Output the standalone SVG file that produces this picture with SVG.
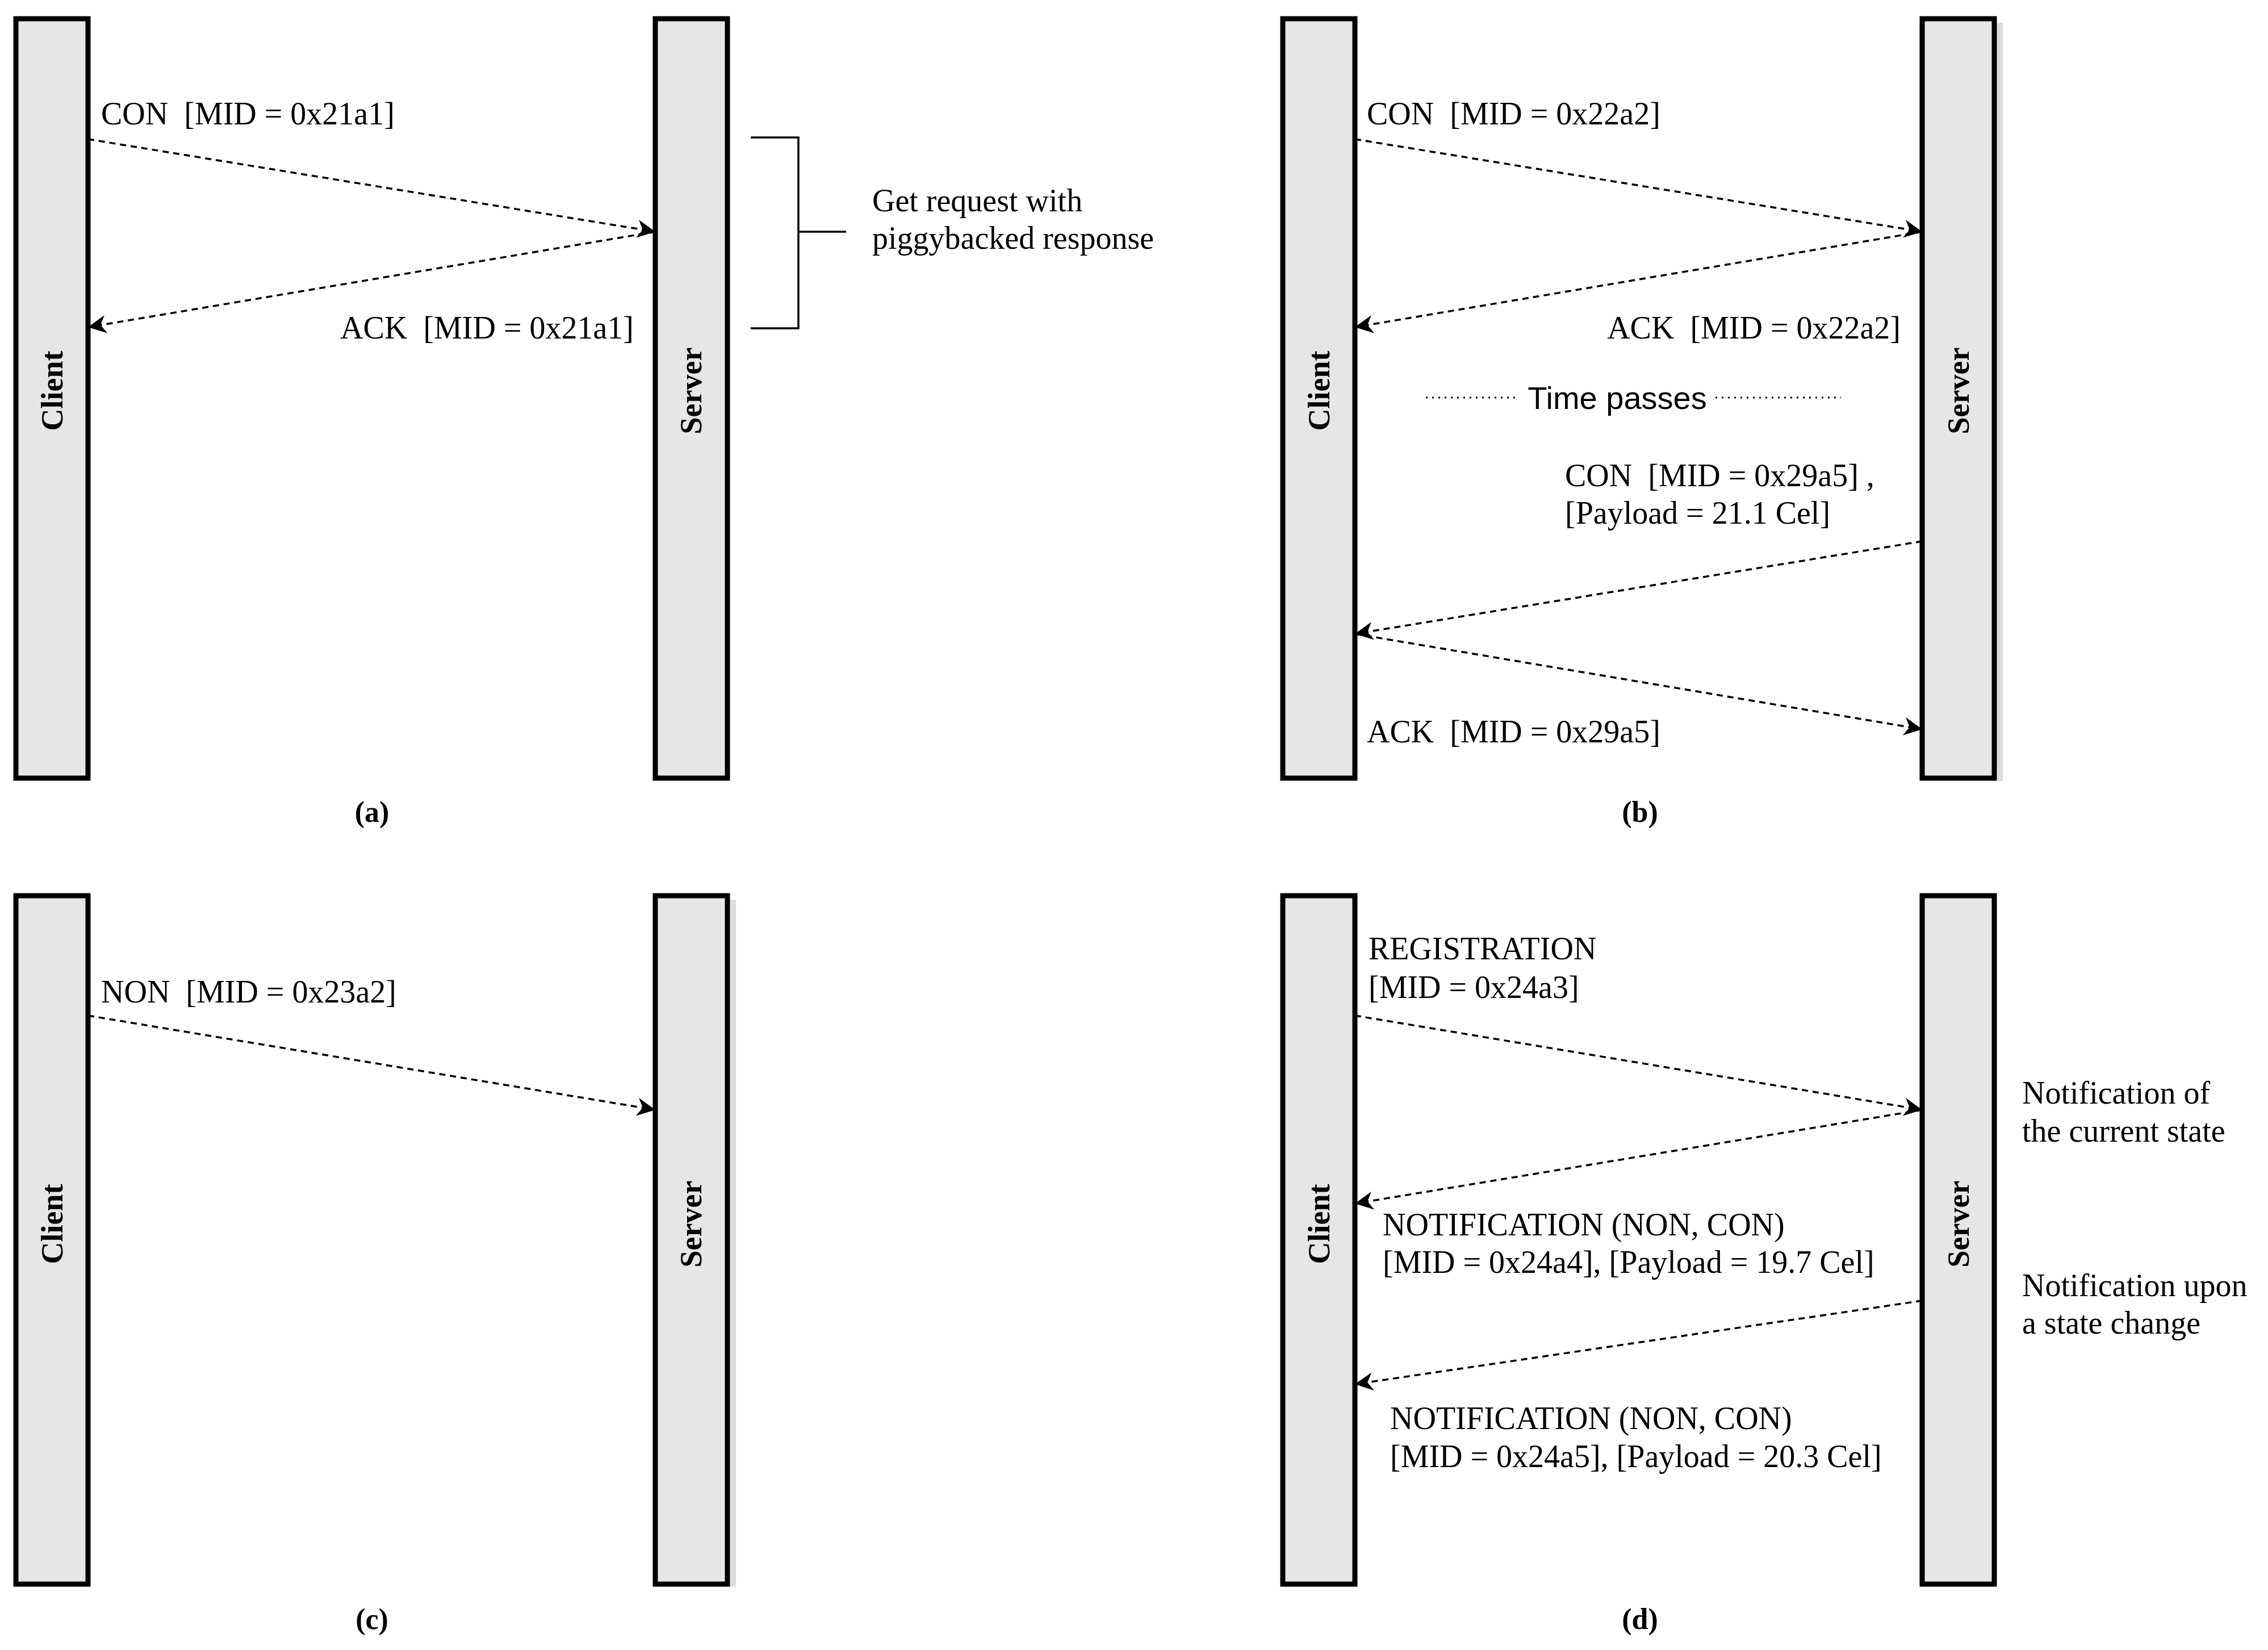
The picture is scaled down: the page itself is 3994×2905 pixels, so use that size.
<svg xmlns="http://www.w3.org/2000/svg" width="3994" height="2905" viewBox="0 0 3994 2905">
<style>
.life{fill:#e6e6e6;stroke:#000;stroke-width:9}
.shadow{fill:#dddddd}
.lbl{font-family:"Liberation Serif",serif;font-weight:bold;font-size:54px;text-anchor:middle;dominant-baseline:central}
.t{font-family:"Liberation Serif",serif;font-size:56px;fill:#000}
.cap{font-family:"Liberation Serif",serif;font-weight:bold;font-size:52px;text-anchor:middle}
.sans{font-family:"Liberation Sans",sans-serif;font-size:56px;text-anchor:middle}
.msg{fill:none;stroke:#000;stroke-width:3.5;stroke-dasharray:11 8;marker-end:url(#ah)}
.br{fill:none;stroke:#000;stroke-width:3.5}
.dot{stroke:#000;stroke-width:3;stroke-dasharray:3 8}
</style>
<defs>
<marker id="ah" markerUnits="userSpaceOnUse" markerWidth="32" markerHeight="32" viewBox="0 0 10 10" refX="10" refY="5" orient="auto">
<path d="M0,0 L10,5 L0,10 L3,5 z" fill="#000"/>
</marker>
</defs>
<rect width="3994" height="2905" fill="#fff"/>
<!-- shadows -->
<rect class="shadow" x="3517" y="40" width="10" height="1335"/>
<rect class="shadow" x="1286" y="1584" width="10" height="1210"/>

<g id="a-client"><rect class="life" x="28" y="33" width="127" height="1337"/><text class="lbl" transform="translate(92,688) rotate(-90)">Client</text></g>
<g id="a-server"><rect class="life" x="1154" y="33" width="127" height="1337"/><text class="lbl" transform="translate(1217,688) rotate(-90)">Server</text></g>
<g id="b-client"><rect class="life" x="2259" y="33" width="127" height="1337"/><text class="lbl" transform="translate(2323,688) rotate(-90)">Client</text></g>
<g id="b-server"><rect class="life" x="3385" y="33" width="127" height="1337"/><text class="lbl" transform="translate(3449,688) rotate(-90)">Server</text></g>
<g id="c-client"><rect class="life" x="28" y="1577" width="127" height="1212"/><text class="lbl" transform="translate(92,2155) rotate(-90)">Client</text></g>
<g id="c-server"><rect class="life" x="1154" y="1577" width="127" height="1212"/><text class="lbl" transform="translate(1217,2155) rotate(-90)">Server</text></g>
<g id="d-client"><rect class="life" x="2259" y="1577" width="127" height="1212"/><text class="lbl" transform="translate(2323,2155) rotate(-90)">Client</text></g>
<g id="d-server"><rect class="life" x="3385" y="1577" width="127" height="1212"/><text class="lbl" transform="translate(3449,2155) rotate(-90)">Server</text></g>

<g id="connectors">
<line class="msg" x1="155" y1="245" x2="1154" y2="408"/>
<line class="msg" x1="1154" y1="408" x2="155" y2="576"/>
<path class="br" d="M1322,242 H1406 V578 H1322 M1406,408 H1490"/>
<line class="msg" x1="2386" y1="245" x2="3385" y2="408"/>
<line class="msg" x1="3385" y1="408" x2="2386" y2="576"/>
<line class="dot" x1="2511" y1="700" x2="2674" y2="700"/>
<line class="dot" x1="3021" y1="700" x2="3242" y2="700"/>
<line class="msg" x1="3385" y1="953" x2="2386" y2="1116"/>
<line class="msg" x1="2386" y1="1116" x2="3385" y2="1284"/>
<line class="msg" x1="155" y1="1788" x2="1154" y2="1954"/>
<line class="msg" x1="2386" y1="1788" x2="3385" y2="1954"/>
<line class="msg" x1="3385" y1="1954" x2="2386" y2="2119"/>
<line class="msg" x1="3385" y1="2290" x2="2386" y2="2437"/>
</g>

<g id="labels">
<text class="t" x="178" y="219" xml:space="preserve">CON  [MID = 0x21a1]</text>
<text class="t" x="1116" y="596" text-anchor="end" xml:space="preserve">ACK  [MID = 0x21a1]</text>
<text class="t" x="1536" y="372">Get request with</text>
<text class="t" x="1536" y="438">piggybacked response</text>
<text class="cap" x="655" y="1447">(a)</text>

<text class="t" x="2407" y="219" xml:space="preserve">CON  [MID = 0x22a2]</text>
<text class="t" x="3347" y="596" text-anchor="end" xml:space="preserve">ACK  [MID = 0x22a2]</text>
<text class="sans" x="2848" y="720">Time passes</text>
<text class="t" x="2756" y="856" xml:space="preserve">CON  [MID = 0x29a5] ,</text>
<text class="t" x="2756" y="922">[Payload = 21.1 Cel]</text>
<text class="t" x="2407" y="1307" xml:space="preserve">ACK  [MID = 0x29a5]</text>
<text class="cap" x="2888" y="1447">(b)</text>

<text class="t" x="178" y="1765" xml:space="preserve">NON  [MID = 0x23a2]</text>
<text class="cap" x="655" y="2868">(c)</text>

<text class="t" x="2410" y="1689">REGISTRATION</text>
<text class="t" x="2410" y="1757">[MID = 0x24a3]</text>
<text class="t" x="2435" y="2175">NOTIFICATION (NON, CON)</text>
<text class="t" x="2435" y="2241">[MID = 0x24a4], [Payload = 19.7 Cel]</text>
<text class="t" x="2448" y="2516">NOTIFICATION (NON, CON)</text>
<text class="t" x="2448" y="2583">[MID = 0x24a5], [Payload = 20.3 Cel]</text>
<text class="t" x="3561" y="1943">Notification of</text>
<text class="t" x="3561" y="2010">the current state</text>
<text class="t" x="3561" y="2282">Notification upon</text>
<text class="t" x="3561" y="2348">a state change</text>
<text class="cap" x="2888" y="2868">(d)</text>
</g>
</svg>
